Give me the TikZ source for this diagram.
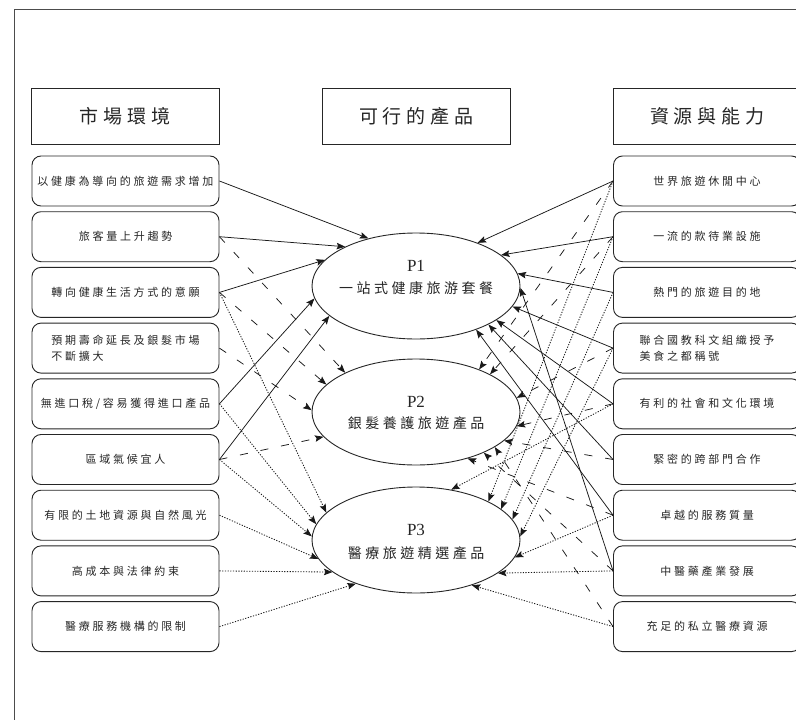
\documentclass[tikz,border=0pt]{standalone}
\usepackage{fontspec}
\setmainfont{Liberation Serif}
\newfontfamily\cjk{Noto Sans CJK TC}[LetterSpace=25]
\usetikzlibrary{arrows.meta,shapes.geometric}

\begin{document}
\begin{tikzpicture}[x=1pt,y=-1pt,
  hdr/.style={draw=black!85,line width=0.9pt,minimum width=188pt,minimum height=56pt,
    inner sep=0pt,text=black!85,font=\cjk\fontsize{19}{22}\selectfont},
  fbox/.style={draw=black!85,line width=0.9pt,rounded corners=9pt,minimum width=187pt,
    minimum height=50pt,inner sep=0pt,align=left,text=black!85,
    font=\cjk\fontsize{11}{15.5}\selectfont},
  prod/.style={draw=black!85,line width=0.9pt,ellipse,minimum width=208pt,
    minimum height=106pt,inner sep=0pt},
  pname/.style={inner sep=0pt,text=black!85,font=\fontsize{17}{20}\selectfont},
  ptitle/.style={inner sep=0pt,text=black!85,font=\cjk\fontsize{14}{18}\selectfont},
  arr/.style={-{Stealth[length=8.5pt,width=6.5pt,inset=1.5pt]},line width=0.75pt,draw=black!90},
  solidln/.style={arr},
  dashln/.style={arr,dash pattern=on 8pt off 13pt},
  dotln/.style={arr,line width=0.85pt,dash pattern=on 1.2pt off 1.5pt},
]
\useasboundingbox (0,0) rectangle (796,720);
\clip (0,0) rectangle (796,720);
\fill[white] (0,0) rectangle (796,720);

% outer frame
\draw[black!70,line width=0.9pt] (14,9) rectangle (840,760);

% column headers
\node[hdr] (hm) at (125,116) {市場環境};
\node[hdr] (hp) at (416,116) {可行的產品};
\node[hdr] (hr) at (707,116) {資源與能力};

% market environment factors
\node[fbox] (l1) at (125.5,181.0) {以健康為導向的旅遊需求增加};
\node[fbox] (l2) at (125.5,236.7) {旅客量上升趨勢};
\node[fbox] (l3) at (125.5,292.4) {轉向健康生活方式的意願};
\node[fbox] (l4) at (125.5,348.1) {預期壽命延長及銀髮市場\\不斷擴大};
\node[fbox] (l5) at (125.5,403.8) {無進口稅/容易獲得進口產品};
\node[fbox] (l6) at (125.5,459.5) {區域氣候宜人};
\node[fbox] (l7) at (125.5,515.2) {有限的土地資源與自然風光};
\node[fbox] (l8) at (125.5,570.9) {高成本與法律約束};
\node[fbox] (l9) at (125.5,626.6) {醫療服務機構的限制};

% resources and capabilities
\node[fbox] (r1) at (707,181.0) {世界旅遊休閒中心};
\node[fbox] (r2) at (707,236.7) {一流的款待業設施};
\node[fbox] (r3) at (707,292.4) {熱門的旅遊目的地};
\node[fbox] (r4) at (707,348.1) {聯合國教科文組織授予\\美食之都稱號};
\node[fbox] (r5) at (707,403.8) {有利的社會和文化環境};
\node[fbox] (r6) at (707,459.5) {緊密的跨部門合作};
\node[fbox] (r7) at (707,515.2) {卓越的服務質量};
\node[fbox] (r8) at (707,570.9) {中醫藥產業發展};
\node[fbox] (r9) at (707,626.6) {充足的私立醫療資源};

% feasible products
\node[prod] (p1) at (416,286) {};
\node[prod] (p2) at (416,412) {};
\node[prod] (p3) at (416,540) {};
\node[pname]  (p1a) at (416,266)   {P1};
\node[ptitle] (p1b) at (416,288.5) {一站式健康旅游套餐};
\node[pname]  (p2a) at (416,401.5) {P2};
\node[ptitle] (p2b) at (416,423.5) {銀髮養護旅遊產品};
\node[pname]  (p3a) at (416,530)   {P3};
\node[ptitle] (p3b) at (416,553.5) {醫療旅遊精選產品};

% links to P1 (solid)
\draw[solidln] (l1.east) -- (p1.135);
\draw[solidln] (l2.east) -- (p1.151);
\draw[solidln] (l3.east) -- (p1.164);
\draw[solidln] (l5.east) -- (p1.187);
\draw[solidln] (l6.east) -- (p1.199);
\draw[solidln] (r1.west) -- (p1.35);
\draw[solidln] (r2.west) -- (p1.20);
\draw[solidln] (r3.west) -- (p1.7);
\draw[solidln] (r4.west) -- (p1.348);
\draw[solidln] (r5.west) -- (p1.337);
\draw[solidln] (r6.west) -- (p1.332);
\draw[solidln] (r7.west) -- (p1.324);
\draw[solidln] (r8.west) -- (p1.359);

% links to P2 (dashed)
\draw[dashln] (l2.east) -- (p2.151);
\draw[dashln] (l3.east) -- (p2.163);
\draw[dashln] (l4.east) -- (p2.179);
\draw[dashln] (l6.east) -- (p2.195);
\draw[dashln] (r1.west) -- (p2.34);
\draw[dashln] (r2.west) -- (p2.27);
\draw[dashln] (r4.west) -- (p2.8);
\draw[dashln] (r5.west) -- (p2.352);
\draw[dashln] (r6.west) -- (p2.342);
\draw[dashln] (r9.west) -- (p2.336);
\draw[dashln] (r8.west) -- (p2.329);
\draw[dashln] (r7.west) -- (p2.318);

% links to P3 (dotted)
\draw[dotln] (l3.east) -- (p3.163);
\draw[dotln] (l5.east) -- (p3.171);
\draw[dotln] (l6.east) -- (p3.178);
\draw[dotln] (l7.east) -- (p3.191);
\draw[dotln] (l8.east) -- (p3.201);
\draw[dotln] (l9.east) -- (p3.216);
\draw[dotln] (r5.west) -- (p3.55);
\draw[dotln] (r1.west) -- (p3.28);
\draw[dotln] (r2.west) -- (p3.20);
\draw[dotln] (r3.west) -- (p3.12);
\draw[dotln] (r4.west) -- (p3.2);
\draw[dotln] (r7.west) -- (p3.350);
\draw[dotln] (r8.west) -- (p3.338);
\draw[dotln] (r9.west) -- (p3.321);
\end{tikzpicture}
\end{document}
